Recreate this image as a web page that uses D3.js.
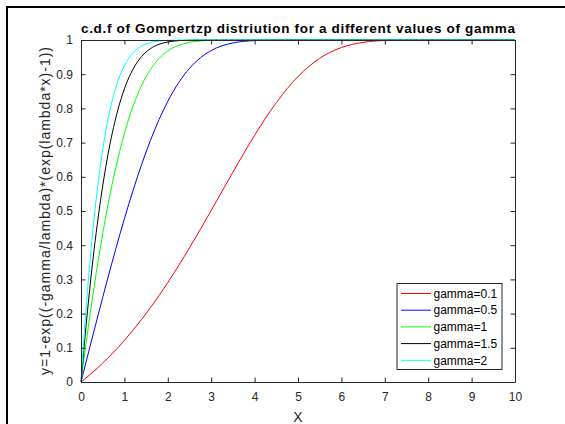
<!DOCTYPE html>
<html>
<head>
<meta charset="utf-8">
<script src="https://cdn.jsdelivr.net/npm/d3@7"></script>
<style>
  html, body { margin: 0; padding: 0; background: #fff; }
  svg { display: block; font-family: 'Liberation Sans', Arial, sans-serif; }
</style>
</head>
<body>
<svg id="gompertz-cdf-svg" width="565" height="424"></svg>
<script>
const xs = [0, 0.1, 0.2, 0.3, 0.4, 0.5, 0.6, 0.8, 1.0, 1.2, 1.4, 1.6, 1.8, 2.0, 2.25, 2.5, 2.75, 3.0,
            3.5, 4.0, 4.5, 5.0, 5.5, 6.0, 6.5, 7.0, 8.0, 9.0, 10.0];
const gamma01 = [0, 0.0102, 0.0208, 0.0318, 0.0433, 0.0552, 0.0676, 0.0937, 0.1217, 0.1516, 0.1835, 0.2174, 0.2531,
                 0.2908, 0.3403, 0.3923, 0.4462, 0.5016, 0.6136, 0.7213, 0.8168, 0.8932, 0.9465, 0.9780, 0.9930,
                 0.9984, 1, 1, 1];
const gamma05 = [0, 0.0500, 0.0998, 0.1494, 0.1986, 0.2472, 0.2952, 0.3885, 0.4773, 0.5605, 0.6371, 0.7064, 0.7677,
                 0.8206, 0.8751, 0.9171, 0.9479, 0.9692, 0.9914, 0.9983, 0.9998, 1, 1, 1, 1, 1, 1, 1, 1];
const gamma1 = [0, 0.0975, 0.1897, 0.2765, 0.3578, 0.4334, 0.5033, 0.6261, 0.7268, 0.8069, 0.8683, 0.9138, 0.9460,
                0.9678, 0.9844, 0.9931, 0.9973, 0.9991, 0.9999, 1, 1, 1, 1, 1, 1, 1, 1, 1, 1];
const gamma15 = [0, 0.1426, 0.2706, 0.3846, 0.4853, 0.5735, 0.6499, 0.7714, 0.8572, 0.9151, 0.9522, 0.9747, 0.9875,
                 0.9942, 0.9981, 0.9994, 0.9999, 1, 1, 1, 1, 1, 1, 1, 1, 1, 1, 1, 1];
const gamma2 = [0, 0.1854, 0.3434, 0.4765, 0.5875, 0.6789, 0.7533, 0.8602, 0.9253, 0.9627, 0.9827, 0.9926, 0.9971,
                0.9990, 0.9998, 1, 1, 1, 1, 1, 1, 1, 1, 1, 1, 1, 1, 1, 1];
const seriesNames = ['gamma=0.1', 'gamma=0.5', 'gamma=1', 'gamma=1.5', 'gamma=2'];
const seriesColors = ['#ff0000', '#0000ff', '#00ff00', '#000000', '#00ffff'];
const xTicks = [0, 1, 2, 3, 4, 5, 6, 7, 8, 9, 10];
const yTicks = [0, 0.1, 0.2, 0.3, 0.4, 0.5, 0.6, 0.7, 0.8, 0.9, 1];

(function() {

  let svg = d3.select('#gompertz-cdf-svg');

  let plot = { left: 81, top: 40, right: 515, bottom: 382 };
  let axisColor = '#262626';

  let xScale = d3.scaleLinear().domain([0, 10]).range([plot.left, plot.right]);
  let yScale = d3.scaleLinear().domain([0, 1]).range([plot.bottom, plot.top]);

  // figure frame (runs off the right and bottom edges)
  svg.append('rect')
    .attr('x', 7).attr('y', 7)
    .attr('width', 640).attr('height', 500)
    .attr('fill', 'none')
    .attr('stroke', '#000')
    .attr('stroke-width', 2);

  let line = d3.line()
    .x((d) => xScale(d[0]))
    .y((d) => yScale(d[1]))
    .curve(d3.curveMonotoneX);

  let allSeries = [gamma01, gamma05, gamma1, gamma15, gamma2];
  allSeries.forEach((vals, i) => {
    svg.append('path')
      .datum(d3.zip(xs, vals))
      .attr('fill', 'none')
      .attr('stroke', seriesColors[i])
      .attr('stroke-width', 1)
      .attr('d', line);
  });

  // x axis (bottom) with inward ticks
  let xAxis = svg.append('g')
    .attr('transform', `translate(0, ${plot.bottom})`)
    .call(d3.axisBottom(xScale).tickValues(xTicks).tickFormat(d3.format('d'))
      .tickSizeInner(-4.5).tickSizeOuter(0).tickPadding(10.5));
  // top
  let xTop = svg.append('g')
    .attr('transform', `translate(0, ${plot.top})`)
    .call(d3.axisTop(xScale).tickValues(xTicks).tickFormat('')
      .tickSizeInner(-4.5).tickSizeOuter(0));
  // y axis (left)
  let yAxis = svg.append('g')
    .attr('transform', `translate(${plot.left}, 0)`)
    .call(d3.axisLeft(yScale).tickValues(yTicks).tickFormat((d) => d3.format('')(+d.toFixed(1)))
      .tickSizeInner(-4.5).tickSizeOuter(0).tickPadding(8));
  // right
  let yRight = svg.append('g')
    .attr('transform', `translate(${plot.right}, 0)`)
    .call(d3.axisRight(yScale).tickValues(yTicks).tickFormat('')
      .tickSizeInner(-4.5).tickSizeOuter(0));

  [xAxis, xTop, yAxis, yRight].forEach((g) => {
    g.select('.domain').attr('stroke', axisColor);
    g.selectAll('.tick line').attr('stroke', axisColor);
    g.selectAll('.tick text')
      .attr('fill', axisColor)
      .attr('font-size', '12px')
      .attr('font-family', "'Liberation Sans', Arial, sans-serif");
  });

  // title (the original is rendered with loose, pixel-rounded spacing)
  svg.append('text')
    .attr('x', (plot.left + plot.right) / 2)
    .attr('y', 33)
    .attr('text-anchor', 'middle')
    .attr('font-size', '13.5px')
    .attr('font-weight', 'bold')
    .attr('fill', '#000')
    .attr('textLength', 434)
    .attr('lengthAdjust', 'spacing')
    .text('c.d.f of Gompertzp distriution for a different values of gamma');

  // axis labels
  svg.append('text')
    .attr('x', 298)
    .attr('y', 422)
    .attr('text-anchor', 'middle')
    .attr('font-size', '14px')
    .attr('fill', axisColor)
    .text('X');

  svg.append('text')
    .attr('transform', `translate(50, ${(plot.top + plot.bottom) / 2}) rotate(-90)`)
    .attr('text-anchor', 'middle')
    .attr('font-size', '14px')
    .attr('fill', axisColor)
    .attr('textLength', 328)
    .attr('lengthAdjust', 'spacing')
    .text('y=1-exp((-gamma/lambda)*(exp(lambda*x)-1))');

  // legend
  let legend = svg.append('g').attr('transform', 'translate(397, 283.5)');
  legend.append('rect')
    .attr('width', 105).attr('height', 86)
    .attr('fill', '#fff')
    .attr('stroke', axisColor)
    .attr('stroke-width', 1);

  seriesNames.forEach((name, i) => {
    let y = 10 + i * 16.7;
    legend.append('line')
      .attr('x1', 4).attr('x2', 34)
      .attr('y1', y).attr('y2', y)
      .attr('stroke', seriesColors[i])
      .attr('stroke-width', 1);
    legend.append('text')
      .attr('x', 36.5).attr('y', y)
      .attr('dy', '0.35em')
      .attr('font-size', '12px')
      .attr('fill', '#000')
      .text(name);
  });

})();
</script>
</body>
</html>
